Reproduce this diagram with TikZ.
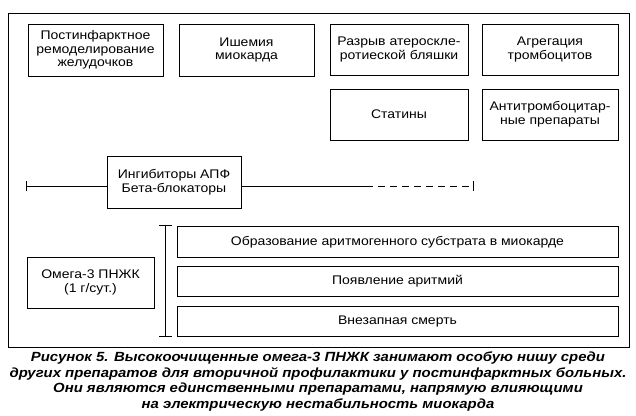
\documentclass[tikz,border=0pt]{standalone}
\usepackage{fontspec}
\setmainfont{Liberation Sans}[FakeStretch=1.12]
\begin{document}
\begin{tikzpicture}[x=1pt,y=-1pt,line width=.8pt,
  box/.style={draw,align=center,inner sep=2pt,font=\fontsize{12.5}{13.6}\selectfont},
  wide/.style={box,minimum width=441pt,minimum height=30.5pt}]
\useasboundingbox (0,0) rectangle (636,415);
\draw (8,13) rectangle (629,347);
% upper row
\node[box,minimum width=135pt,minimum height=52pt] (remod) at (95.5,50) {Постинфарктное\\ремоделирование\\желудочков};
\node[box,minimum width=135pt,minimum height=52pt] (ishem) at (246.5,50) {Ишемия\\миокарда};
\node[box,minimum width=138pt,minimum height=51pt] (razryv) at (399,49.5) {Разрыв атероскле-\\ротиеской бляшки};
\node[box,minimum width=136pt,minimum height=51pt] (agreg) at (550,49.5) {Агрегация\\тромбоцитов};
\node[box,minimum width=138pt,minimum height=51pt] (statin) at (399,114.5) {Статины};
\node[box,minimum width=136pt,minimum height=51pt] (antitr) at (550,114.5) {Антитромбоцитар-\\ные препараты};
% line
\node[box,minimum width=134pt,minimum height=52pt] (ingib) at (174,182) {Ингибиторы АПФ\\Бета-блокаторы};
\coordinate (tl) at (26,186);
\coordinate (ds) at (366,186);
\coordinate (tr) at (473,186);
\draw (tl) -- (tl -| ingib.west);
\draw (tl -| ingib.east) -- (ds);
\draw[dash pattern=on 7pt off 5pt] (ds) -- (tr);
\draw (26,181) -- (26,191);
\draw (473,181) -- (473,191);
% omega-3
\node[box,minimum width=127pt,minimum height=51pt] (omega) at (90.5,282.5) {Омега-3 ПНЖК\\(1 г/сут.)};
\draw (165,225) -- (165,336);
\foreach \y in {225,336}
\draw[shift={(165,\y)}] (-6pt,0pt) -- (7pt,0pt);
\foreach \n/\y/\t in {substr/242/{Образование аритмогенного субстрата в миокарде},aritm/281.5/{Появление аритмий},death/321.5/{Внезапная смерть}}
\node[wide] (\n) at (397.5,\y) {\t};
% caption
\node[align=center,inner sep=0pt,font=\fontsize{13.3}{15.5}\selectfont\bfseries\itshape] (capt) at (318,381.5) {Рисунок 5. Высокоочищенные омега-3 ПНЖК занимают особую нишу среди\\других препаратов для вторичной профилактики у постинфарктных больных.\\Они являются единственными препаратами, напрямую влияющими\\на электрическую нестабильность миокарда};
\end{tikzpicture}
\end{document}
